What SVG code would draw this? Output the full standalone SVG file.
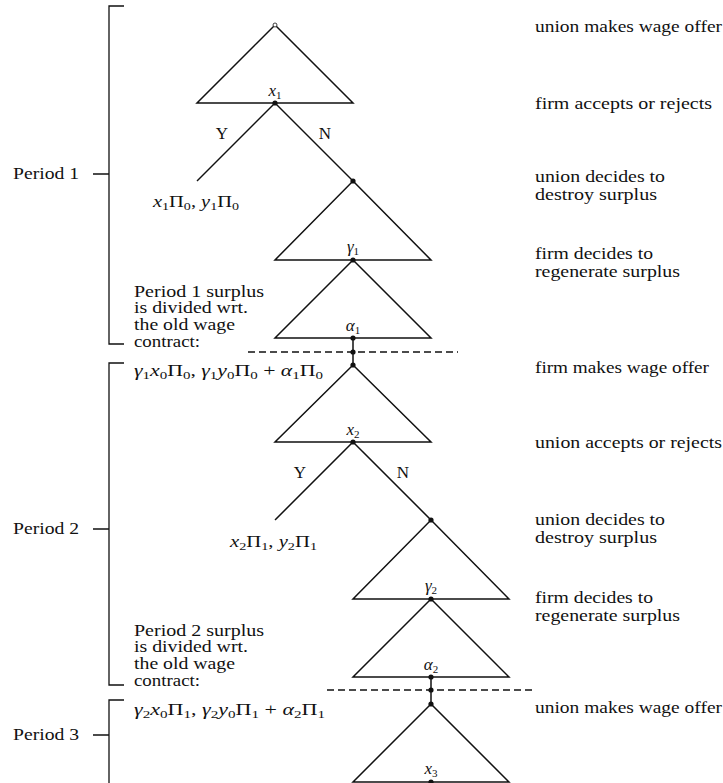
<svg xmlns="http://www.w3.org/2000/svg" width="723" height="783" viewBox="0 0 723 783">
<style>
text{font-family:"Liberation Serif","Times New Roman",serif;font-size:16px;fill:#111}
.i{font-style:italic}
.s{font-size:11px}
.lab{font-size:17px}
.c{text-anchor:middle}
.tri{fill:none;stroke:#111;stroke-width:1.5;stroke-linejoin:miter}
.ln{fill:none;stroke:#111;stroke-width:1.5}
.br{fill:none;stroke:#111;stroke-width:1.3}
.dash{stroke:#111;stroke-width:1.3;stroke-dasharray:7 4}
.dot{fill:#111}
</style>
<rect width="723" height="783" fill="#fff"/>

<g id="brackets">
  <path class="br" d="M124,6 H109 V344 H124 M93,174 H109"/>
  <path class="br" d="M124,363 H109 V685 H124 M93,529 H109"/>
  <path class="br" d="M124,700 H109 V783 M93,735 H109"/>
  <text x="13" y="179" textLength="66" lengthAdjust="spacingAndGlyphs">Period 1</text>
  <text x="13" y="534" textLength="66" lengthAdjust="spacingAndGlyphs">Period 2</text>
  <text x="13" y="740" textLength="66" lengthAdjust="spacingAndGlyphs">Period 3</text>
</g>

<g id="connectors">
  <path class="ln" d="M275,103 L197,181"/>
  <path class="ln" d="M275,103 L353,181"/>
  <path class="ln" d="M353,338 V365"/>
  <path class="ln" d="M353,442 L275,520"/>
  <path class="ln" d="M353,442 L431,520"/>
  <path class="ln" d="M431,677 V704"/>
  <line class="dash" x1="248" y1="352" x2="458" y2="352"/>
  <line class="dash" x1="327" y1="690" x2="536" y2="690"/>
  <text x="222" y="139" class="c lab">Y</text>
  <text x="325" y="139" class="c lab">N</text>
  <text x="300" y="478" class="c lab">Y</text>
  <text x="403" y="478" class="c lab">N</text>
</g>

<g id="node-union-offer-1">
  <path class="tri" d="M275,25 L353,103 H197 Z"/>
  <circle cx="275" cy="25" r="2" fill="#fff" stroke="#111" stroke-width="0.8"/>
</g>
<g id="node-x1">
  <circle class="dot" cx="275" cy="103" r="2.6"/>
  <text x="275" y="96" class="c lab"><tspan class="i">x</tspan><tspan class="s" dy="3">1</tspan></text>
</g>
<g id="node-payoff-1">
  <text x="153" y="207" textLength="86" lengthAdjust="spacingAndGlyphs"><tspan class="i">x</tspan><tspan class="s" dy="3">1</tspan><tspan dy="-3">Π</tspan><tspan class="s" dy="3">0</tspan><tspan dy="-3">, </tspan><tspan class="i">y</tspan><tspan class="s" dy="3">1</tspan><tspan dy="-3">Π</tspan><tspan class="s" dy="3">0</tspan></text>
</g>
<g id="node-destroy-1">
  <circle class="dot" cx="353" cy="181" r="2.6"/>
  <path class="tri" d="M353,181 L431,260 H275 Z"/>
</g>
<g id="node-gamma1">
  <circle class="dot" cx="353" cy="260" r="2.6"/>
  <path class="tri" d="M353,260 L431,338 H275 Z"/>
  <text x="353" y="252" class="c lab"><tspan class="i">γ</tspan><tspan class="s" dy="3">1</tspan></text>
</g>
<g id="node-alpha1">
  <circle class="dot" cx="353" cy="338" r="2.6"/>
  <circle class="dot" cx="353" cy="352" r="2.6"/>
  <text x="353" y="331" class="c lab"><tspan class="i">α</tspan><tspan class="s" dy="3">1</tspan></text>
</g>
<g id="note-period-1">
  <text x="134" y="297" textLength="130" lengthAdjust="spacingAndGlyphs">Period 1 surplus</text>
  <text x="134" y="313" textLength="114" lengthAdjust="spacingAndGlyphs">is divided wrt.</text>
  <text x="134" y="330" textLength="101" lengthAdjust="spacingAndGlyphs">the old wage</text>
  <text x="134" y="347" textLength="66" lengthAdjust="spacingAndGlyphs">contract:</text>
  <text x="134" y="376" textLength="189" lengthAdjust="spacingAndGlyphs"><tspan class="i">γ</tspan><tspan class="s" dy="3">1</tspan><tspan class="i" dy="-3">x</tspan><tspan class="s" dy="3">0</tspan><tspan dy="-3">Π</tspan><tspan class="s" dy="3">0</tspan><tspan dy="-3">, </tspan><tspan class="i">γ</tspan><tspan class="s" dy="3">1</tspan><tspan class="i" dy="-3">y</tspan><tspan class="s" dy="3">0</tspan><tspan dy="-3">Π</tspan><tspan class="s" dy="3">0</tspan><tspan dy="-3"> + </tspan><tspan class="i">α</tspan><tspan class="s" dy="3">1</tspan><tspan dy="-3">Π</tspan><tspan class="s" dy="3">0</tspan></text>
</g>

<g id="node-firm-offer-2">
  <circle class="dot" cx="353" cy="365" r="2.6"/>
  <path class="tri" d="M353,365 L431,442 H275 Z"/>
</g>
<g id="node-x2">
  <circle class="dot" cx="353" cy="442" r="2.6"/>
  <text x="353" y="435" class="c lab"><tspan class="i">x</tspan><tspan class="s" dy="3">2</tspan></text>
</g>
<g id="node-payoff-2">
  <text x="230" y="547" textLength="87" lengthAdjust="spacingAndGlyphs"><tspan class="i">x</tspan><tspan class="s" dy="3">2</tspan><tspan dy="-3">Π</tspan><tspan class="s" dy="3">1</tspan><tspan dy="-3">, </tspan><tspan class="i">y</tspan><tspan class="s" dy="3">2</tspan><tspan dy="-3">Π</tspan><tspan class="s" dy="3">1</tspan></text>
</g>
<g id="node-destroy-2">
  <circle class="dot" cx="431" cy="520" r="2.6"/>
  <path class="tri" d="M431,520 L509,599 H353 Z"/>
</g>
<g id="node-gamma2">
  <circle class="dot" cx="431" cy="599" r="2.6"/>
  <path class="tri" d="M431,599 L509,677 H353 Z"/>
  <text x="431" y="591" class="c lab"><tspan class="i">γ</tspan><tspan class="s" dy="3">2</tspan></text>
</g>
<g id="node-alpha2">
  <circle class="dot" cx="431" cy="677" r="2.6"/>
  <circle class="dot" cx="431" cy="690" r="2.6"/>
  <text x="431" y="670" class="c lab"><tspan class="i">α</tspan><tspan class="s" dy="3">2</tspan></text>
</g>
<g id="note-period-2">
  <text x="134" y="636" textLength="130" lengthAdjust="spacingAndGlyphs">Period 2 surplus</text>
  <text x="134" y="652" textLength="114" lengthAdjust="spacingAndGlyphs">is divided wrt.</text>
  <text x="134" y="669" textLength="101" lengthAdjust="spacingAndGlyphs">the old wage</text>
  <text x="134" y="686" textLength="66" lengthAdjust="spacingAndGlyphs">contract:</text>
  <text x="134" y="715" textLength="191" lengthAdjust="spacingAndGlyphs"><tspan class="i">γ</tspan><tspan class="s" dy="3">2</tspan><tspan class="i" dy="-3">x</tspan><tspan class="s" dy="3">0</tspan><tspan dy="-3">Π</tspan><tspan class="s" dy="3">1</tspan><tspan dy="-3">, </tspan><tspan class="i">γ</tspan><tspan class="s" dy="3">2</tspan><tspan class="i" dy="-3">y</tspan><tspan class="s" dy="3">0</tspan><tspan dy="-3">Π</tspan><tspan class="s" dy="3">1</tspan><tspan dy="-3"> + </tspan><tspan class="i">α</tspan><tspan class="s" dy="3">2</tspan><tspan dy="-3">Π</tspan><tspan class="s" dy="3">1</tspan></text>
</g>

<g id="node-union-offer-3">
  <circle class="dot" cx="431" cy="704" r="2.6"/>
  <path class="tri" d="M431,704 L509,782 H353 Z"/>
</g>
<g id="node-x3">
  <circle class="dot" cx="431" cy="782" r="2.6"/>
  <text x="431" y="774" class="c lab"><tspan class="i">x</tspan><tspan class="s" dy="3">3</tspan></text>
</g>

<g id="stage-labels">
  <text x="535" y="32" textLength="187" lengthAdjust="spacingAndGlyphs">union makes wage offer</text>
  <text x="535" y="109" textLength="177" lengthAdjust="spacingAndGlyphs">firm accepts or rejects</text>
  <text x="535" y="182" textLength="130" lengthAdjust="spacingAndGlyphs">union decides to</text>
  <text x="535" y="200" textLength="122" lengthAdjust="spacingAndGlyphs">destroy surplus</text>
  <text x="535" y="259" textLength="118" lengthAdjust="spacingAndGlyphs">firm decides to</text>
  <text x="535" y="277" textLength="145" lengthAdjust="spacingAndGlyphs">regenerate surplus</text>
  <text x="535" y="373" textLength="174" lengthAdjust="spacingAndGlyphs">firm makes wage offer</text>
  <text x="535" y="448" textLength="187" lengthAdjust="spacingAndGlyphs">union accepts or rejects</text>
  <text x="535" y="525" textLength="130" lengthAdjust="spacingAndGlyphs">union decides to</text>
  <text x="535" y="543" textLength="122" lengthAdjust="spacingAndGlyphs">destroy surplus</text>
  <text x="535" y="603" textLength="118" lengthAdjust="spacingAndGlyphs">firm decides to</text>
  <text x="535" y="621" textLength="145" lengthAdjust="spacingAndGlyphs">regenerate surplus</text>
  <text x="535" y="713" textLength="187" lengthAdjust="spacingAndGlyphs">union makes wage offer</text>
</g>
</svg>
